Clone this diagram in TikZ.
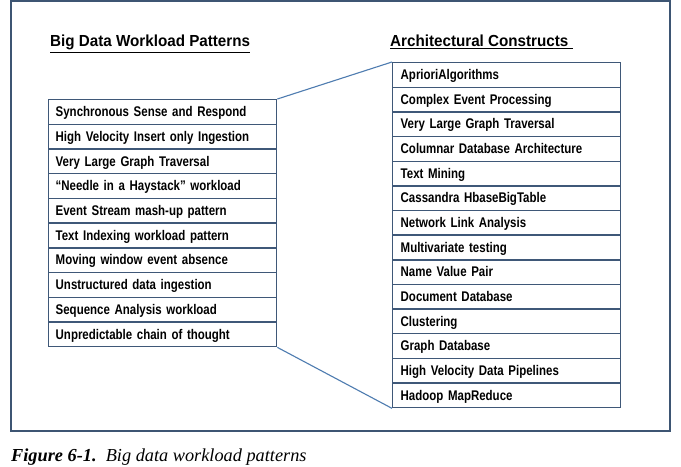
\documentclass[tikz,border=0pt]{standalone}
\usepackage{fontspec}
\newfontfamily\nb[FakeStretch=0.82]{Liberation Sans}
\newfontfamily\tb[FakeStretch=0.95]{Liberation Sans}
\newfontfamily\capf{Liberation Serif}
\definecolor{framec}{HTML}{3D5573}
\definecolor{cellc}{HTML}{3F5878}
\definecolor{linkc}{HTML}{4E7CB0}
\begin{document}
\begin{tikzpicture}[x=1bp,y=-1bp,
  cell/.style={draw=cellc, line width=1.4bp, rectangle, anchor=north west,
    minimum height=24.7bp, inner sep=0pt, text height=11.4bp, text depth=2bp,
    font=\nb\bfseries\fontsize{14bp}{16bp}\selectfont},
  lcell/.style={cell, minimum width=228bp, text width=214bp, align=left},
  rcell/.style={cell, minimum width=228bp, text width=212bp, align=left, minimum height=24.64bp},
  ttl/.style={anchor=base west, inner sep=0pt, font=\tb\bfseries\fontsize{16bp}{19bp}\selectfont},
  link/.style={draw=linkc, line width=1.1bp}]
\useasboundingbox (0,0) rectangle (681,467);
\fill[white] (0,0) rectangle (681,467);
\draw[framec, line width=1.8bp] (11,1) rectangle (670,431);
\node[ttl] (tl) at (50,47) {\underline{Big Data Workload Patterns}};
\node[ttl] (tr) at (390,47) {\underline{Architectural Constructs\ }};
\foreach \t [count=\i] in {Synchronous Sense and Respond,High Velocity Insert only Ingestion,Very Large Graph Traversal,{“Needle in a Haystack” workload},Event Stream mash-up pattern,Text Indexing workload pattern,Moving window event absence,Unstructured data ingestion,Sequence Analysis workload,Unpredictable chain of thought}
  \node[lcell] (L\i) at (48,{99+(\i-1)*24.7}) {\t};
\foreach \t [count=\i] in {AprioriAlgorithms,Complex Event Processing,Very Large Graph Traversal,Columnar Database Architecture,Text Mining,Cassandra HbaseBigTable,Network Link Analysis,Multivariate testing,Name Value Pair,Document Database,Clustering,Graph Database,High Velocity Data Pipelines,Hadoop MapReduce}
  \node[rcell] (R\i) at (392,{62+(\i-1)*24.64}) {\t};
\draw[link] (L1.north east) -- (R1.north west);
\draw[link] (L10.south east) -- (R14.south west);
\node[anchor=base west, inner sep=0pt, font=\capf\fontsize{18.3bp}{20bp}\selectfont] (cap) at (11,461)
  {\textbf{\textit{Figure 6-1.}}\ \ \textit{Big data workload patterns}};
\end{tikzpicture}
\end{document}
